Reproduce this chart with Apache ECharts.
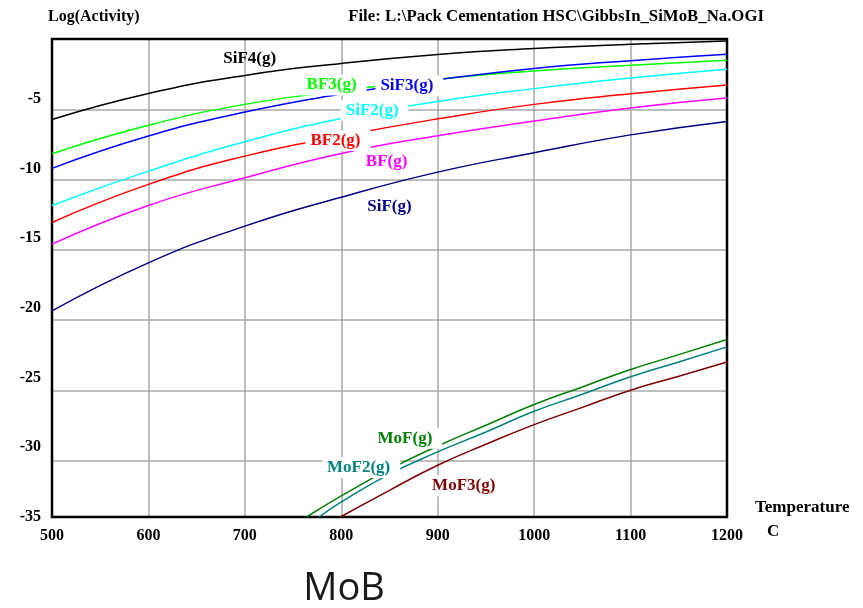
<!DOCTYPE html>
<html>
<head>
<meta charset="utf-8">
<script src="https://cdn.jsdelivr.net/npm/echarts@6/dist/echarts.min.js"></script>
<style>
  html, body { margin: 0; padding: 0; background: #fff; }
  #chart { width: 863px; height: 608px; }
</style>
</head>
<body>
<div id="chart"></div>
<script>
// Temperature grid (C) for the fluoride species
const temps = [500, 600, 700, 800, 900, 1000, 1100, 1200];
const sif4 = [-5.72, -3.87, -2.59, -1.74, -1.10, -0.68, -0.38, -0.15];
const bf3  = [-8.16, -6.14, -4.65, -3.70, -2.86, -2.28, -1.87, -1.52];
const sif3 = [-9.20, -6.90, -5.20, -3.92, -2.90, -2.09, -1.54, -1.09];
const sif2 = [-11.84, -9.40, -7.31, -5.65, -4.45, -3.53, -2.78, -2.16];
const bf2  = [-13.05, -10.34, -8.33, -6.90, -5.68, -4.65, -3.90, -3.27];
const bf   = [-14.59, -11.84, -9.87, -8.14, -6.88, -5.84, -4.90, -4.20];
const sif  = [-19.34, -15.92, -13.31, -11.25, -9.47, -8.09, -6.82, -5.86];

// Molybdenum fluorides (start where they enter the plotted range)
const mofTemps  = [764, 800, 850, 900, 950, 1000, 1050, 1100, 1150, 1200];
const mof       = [-34.0, -32.5, -30.6, -28.95, -27.47, -26.0, -24.75, -23.51, -22.45, -21.37];
const mof2Temps = [777, 800, 850, 900, 950, 1000, 1050, 1100, 1150, 1200];
const mof2      = [-34.0, -32.93, -30.95, -29.37, -27.95, -26.48, -25.27, -24.03, -22.97, -21.9];
const mof3Temps = [799, 850, 900, 950, 1000, 1050, 1100, 1150, 1200];
const mof3      = [-34.0, -32.1, -30.32, -28.83, -27.43, -26.2, -24.98, -23.99, -22.97];

// Species names, colours and label anchors (temperature, log activity)
const names  = ['SiF4(g)', 'BF3(g)', 'SiF3(g)', 'SiF2(g)', 'BF2(g)', 'BF(g)', 'SiF(g)', 'MoF(g)', 'MoF2(g)', 'MoF3(g)'];
const colors = ['#000000', '#00ff00', '#0000ff', '#00ffff', '#ff0000', '#ff00ff', '#000080', '#008000', '#008080', '#800000'];
const labelTemps  = [705, 790, 868, 832, 794, 847, 850, 866, 818, 927];
const labelValues = [-1.35, -3.24, -3.29, -5.04, -7.19, -8.66, -11.92, -28.36, -30.44, -31.74];

// Axis tick labels
const xTicks = [500, 600, 700, 800, 900, 1000, 1100, 1200];
const yTickLabels = [-35, -30, -25, -20, -15, -10, -5];

const serif = '"Liberation Serif", "Times New Roman", serif';

const seriesX = [temps, temps, temps, temps, temps, temps, temps, mofTemps, mof2Temps, mof3Temps];
const seriesY = [sif4, bf3, sif3, sif2, bf2, bf, sif, mof, mof2, mof3];

// label box padding [top, right, bottom, left] and the shift that keeps the text on its anchor
const pad = [3, 10, 1, 5];
const labelShift = [2.5, 0.5];

const series = names.map((name, i) => ({
  name: name,
  type: 'line',
  xAxisIndex: 0,
  yAxisIndex: 0,
  smooth: 0.5,
  showSymbol: false,
  symbol: 'none',
  animation: false,
  lineStyle: { color: colors[i], width: 1.5 },
  itemStyle: { color: colors[i] },
  data: seriesX[i].map((t, k) => [t, seriesY[i][k]]),
  markPoint: {
    symbol: 'rect',
    symbolSize: 1,
    silent: true,
    animation: false,
    itemStyle: { color: 'rgba(0,0,0,0)' },
    label: {
      show: true,
      position: 'inside',
      formatter: name,
      color: colors[i],
      fontFamily: serif,
      fontWeight: 'bold',
      fontSize: 17,
      // the top label sits clear of its curve, the others blank out the lines beneath them
      backgroundColor: i === 0 ? 'rgba(0,0,0,0)' : '#ffffff',
      padding: pad,
      offset: labelShift
    },
    data: [{ name: name, coord: [labelTemps[i], labelValues[i]] }]
  }
}));

const chart = echarts.init(document.getElementById('chart'), null, { renderer: 'canvas' });
chart.setOption({
  animation: false,
  backgroundColor: '#ffffff',
  grid: {
    left: 52, right: 136, top: 39, bottom: 91,
    show: true, z: 3,
    borderColor: '#000000', borderWidth: 2.5,
    backgroundColor: 'rgba(0,0,0,0)'
  },
  xAxis: {
    type: 'value',
    min: xTicks[0], max: xTicks[xTicks.length - 1], interval: 100,
    axisLine: { show: false },
    axisTick: { show: false },
    splitLine: { show: true, lineStyle: { color: '#a8a8a8', width: 1.5 } },
    axisLabel: {
      margin: 11, color: '#000', fontFamily: serif, fontWeight: 'bold', fontSize: 16,
      formatter: v => (xTicks.includes(v) ? String(v) : '')
    }
  },
  yAxis: [
    {
      // data axis: plotted range of log activity
      type: 'value', min: -34, max: 0, splitNumber: 7,
      axisLine: { show: false },
      axisTick: { show: false },
      axisLabel: { show: false },
      splitLine: { show: true, lineStyle: { color: '#a8a8a8', width: 1.5 } }
    },
    {
      // label axis carrying the printed tick values
      type: 'value', min: -35, max: -0.7, interval: 5, position: 'left',
      axisLine: { show: false },
      axisTick: { show: false },
      splitLine: { show: false },
      axisLabel: {
        margin: 11, color: '#000', fontFamily: serif, fontWeight: 'bold', fontSize: 16,
        showMaxLabel: false,
        formatter: v => (yTickLabels.includes(v) ? String(v) : '')
      }
    }
  ],
  series: series,
  graphic: [
    { type: 'text', x: 48, y: 17, silent: true,
      style: { text: 'Log(Activity)', fill: '#000', font: 'bold 16px ' + serif, align: 'left', verticalAlign: 'middle' } },
    { type: 'text', x: 764, y: 17, silent: true,
      style: { text: 'File: L:\\Pack Cementation HSC\\GibbsIn_SiMoB_Na.OGI', fill: '#000', font: 'bold 16.8px ' + serif, align: 'right', verticalAlign: 'middle' } },
    { type: 'text', x: 755, y: 508, silent: true,
      style: { text: 'Temperature', fill: '#000', font: 'bold 17px ' + serif, align: 'left', verticalAlign: 'middle' } },
    { type: 'text', x: 767, y: 532, silent: true,
      style: { text: 'C', fill: '#000', font: 'bold 17px ' + serif, align: 'left', verticalAlign: 'middle' } },
    { type: 'text', x: 344, y: 589, silent: true,
      style: { text: 'MoB', fill: '#1a1a1a', font: '38px "Open Sans", "Noto Sans", sans-serif', align: 'center', verticalAlign: 'middle' } }
  ]
});
</script>
</body>
</html>
